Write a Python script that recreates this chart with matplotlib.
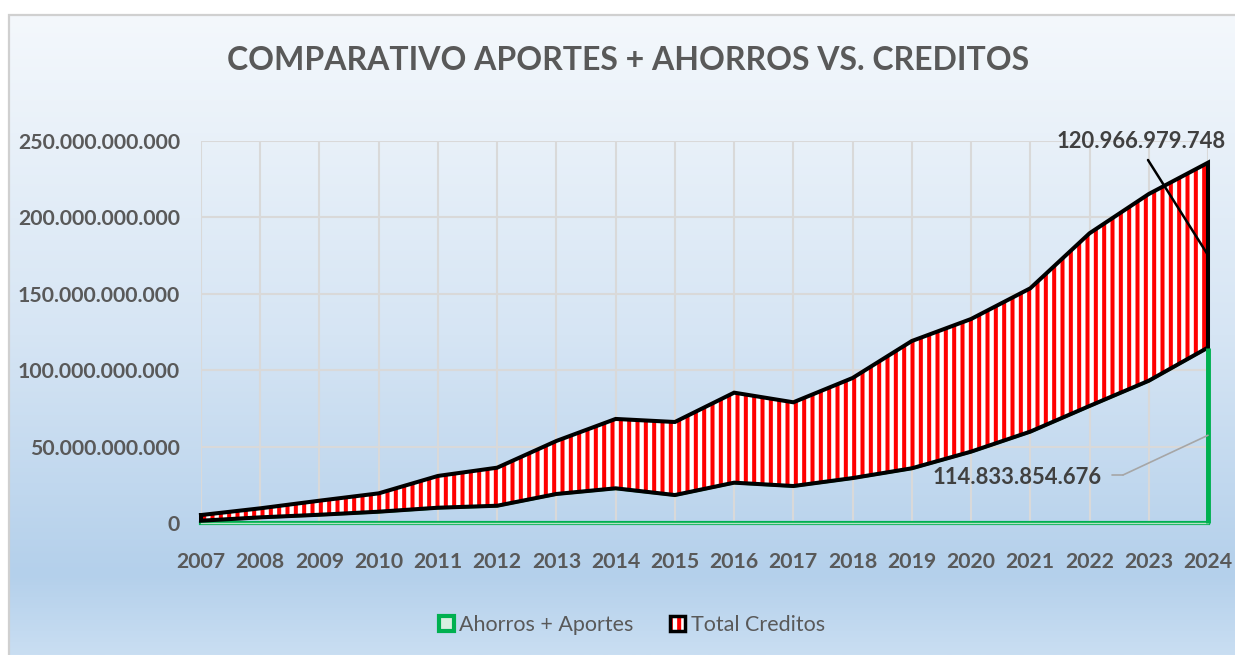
import matplotlib
matplotlib.use('Agg')
import matplotlib.pyplot as plt
import numpy as np
from matplotlib.patches import Patch, Rectangle
from matplotlib.legend_handler import HandlerTuple
from matplotlib.colors import LinearSegmentedColormap
from matplotlib.ticker import FuncFormatter

plt.rcParams['font.family'] = ['Lato', 'DejaVu Sans']
plt.rcParams['hatch.linewidth'] = 2.9

years = list(range(2007, 2025))
# values in billions of pesos
ahorros = [1.5, 3.7, 5.4, 7.4, 10.0, 11.3, 19.0, 22.7, 18.3, 26.4, 24.2, 29.4,
           35.8, 46.7, 59.8, 76.6, 93.1, 114.833854676]
creditos = [3.7, 5.9, 9.2, 12.0, 20.8, 24.9, 34.7, 45.4, 47.8, 58.9, 54.8, 65.5,
            83.3, 86.8, 93.8, 113.0, 122.2, 120.966979748]
yticks = [0, 50, 100, 150, 200, 250]

x = np.array(years)
a = np.array(ahorros) * 1e9
c = np.array(creditos) * 1e9
top = a + c

W, H = 1235, 655
fig = plt.figure(figsize=(W / 100, H / 100), dpi=100)
fig.patch.set_facecolor('white')

# gradient chart background
bg = fig.add_axes([10 / W, 0, 1 - 10 / W, 1 - 15 / H], zorder=-5)
cmap = LinearSegmentedColormap.from_list('bg', [
    (0.0, (244/255, 248/255, 252/255)),
    (0.5, (214/255, 229/255, 244/255)),
    (0.875, (180/255, 208/255, 235/255)),
    (1.0, (201/255, 222/255, 242/255))])
grad = np.linspace(0, 1, 256).reshape(-1, 1)
bg.imshow(grad, aspect='auto', cmap=cmap, extent=[0, 1, 0, 1], origin='upper')
bg.set_xlim(0, 1)
bg.set_ylim(0, 1)
bg.axis('off')
fig.patches.append(Rectangle((9 / W, -0.01), 1.02, 1 - 15 / H + 0.01, transform=fig.transFigure,
                             fill=False, edgecolor='#d0d0d0', lw=1.6, zorder=-4))

ax = fig.add_axes([201 / W, 1 - 523 / H, (1208 - 201) / W, (523 - 141) / H])
ax.set_facecolor('none')

# Ahorros + Aportes: outline only
ax.fill_between(x, 0, a, facecolor='none', edgecolor='#00b050', lw=2.5, zorder=3)
ax.plot([x[-1], x[-1]], [0, a[-1]], color='#00b050', lw=3.5, zorder=6,
        solid_capstyle='butt', clip_on=False)
ax.axhline(0, color='#00b050', lw=3, zorder=4, clip_on=False)
ax.axhline(0, color='#b7e0c6', lw=1, zorder=4, clip_on=False)

# Total Creditos: red striped, black border
ax.fill_between(x, a, top, facecolor='white', edgecolor='red', hatch='||', lw=0, zorder=4)
xs = np.concatenate([x, x[::-1], x[:1]])
ys = np.concatenate([top, a[::-1], top[:1]])
ax.plot(xs, ys, color='black', lw=2.9, zorder=5, solid_joinstyle='miter', clip_on=False)

ax.set_xlim(2007, 2024)
ax.set_ylim(0, 250e9)
ax.set_xticks(years)
ax.set_yticks([v * 1e9 for v in yticks])
ax.yaxis.set_major_formatter(FuncFormatter(lambda v, p: f'{int(round(v)):,}'.replace(',', '.')))
ax.grid(True, color='#d9d9d9', lw=1.5, zorder=0)
ax.set_axisbelow(True)
for s in ax.spines.values():
    s.set_visible(False)
ax.tick_params(length=0, labelsize=15.3, labelcolor='#595959')
ax.tick_params(axis='x', pad=21)
ax.tick_params(axis='y', pad=15)
for lab in ax.get_xticklabels() + ax.get_yticklabels():
    lab.set_fontweight('bold')

fig.text(628.5 / W, 1 - 60 / H, 'COMPARATIVO APORTES + AHORROS VS. CREDITOS',
         ha='center', va='center', fontsize=23, fontweight='bold', color='#595959')

# data labels
fig.text(1057 / W, 1 - 141 / H, '120.966.979.748', ha='left', va='center',
         fontsize=15.8, fontweight='bold', color='#404040')
ax.annotate('', xy=(x[-1], a[-1] + c[-1] / 2), xytext=(1148, H - 160), textcoords='figure pixels',
            arrowprops=dict(arrowstyle='-', color='black', lw=1.8, shrinkA=0, shrinkB=0),
            annotation_clip=False, zorder=7)
fig.text(1102 / W, 1 - 477 / H, '114.833.854.676', ha='right', va='center',
         fontsize=15.8, fontweight='bold', color='#404040')
ax.annotate('', xy=(1123, H - 475), xycoords='figure pixels', xytext=(1112, H - 475),
            textcoords='figure pixels',
            arrowprops=dict(arrowstyle='-', color='#a6a6a6', lw=1.2, shrinkA=0, shrinkB=0),
            zorder=7)
ax.annotate('', xy=(x[-1], a[-1] / 2), xytext=(1123, H - 475), textcoords='figure pixels',
            arrowprops=dict(arrowstyle='-', color='#a6a6a6', lw=1.2, shrinkA=0, shrinkB=0),
            annotation_clip=False, zorder=7)

h1 = Patch(facecolor='#d8efe0', edgecolor='#00b050', lw=3)
h2 = (Patch(facecolor='white', edgecolor='red', hatch='||', lw=0),
      Patch(facecolor='none', edgecolor='black', lw=2.5))
leg = fig.legend([h1, h2], ['Ahorros + Aportes', 'Total Creditos'],
                 handler_map={tuple: HandlerTuple(ndivide=1)},
                 loc='center', bbox_to_anchor=(632 / W, 1 - 625 / H), ncol=2,
                 frameon=False, fontsize=15.5, handlelength=0.7, handleheight=0.7,
                 handletextpad=0.25, columnspacing=1.7)
for t in leg.get_texts():
    t.set_color('#595959')

fig.savefig('out.png', dpi=100)
